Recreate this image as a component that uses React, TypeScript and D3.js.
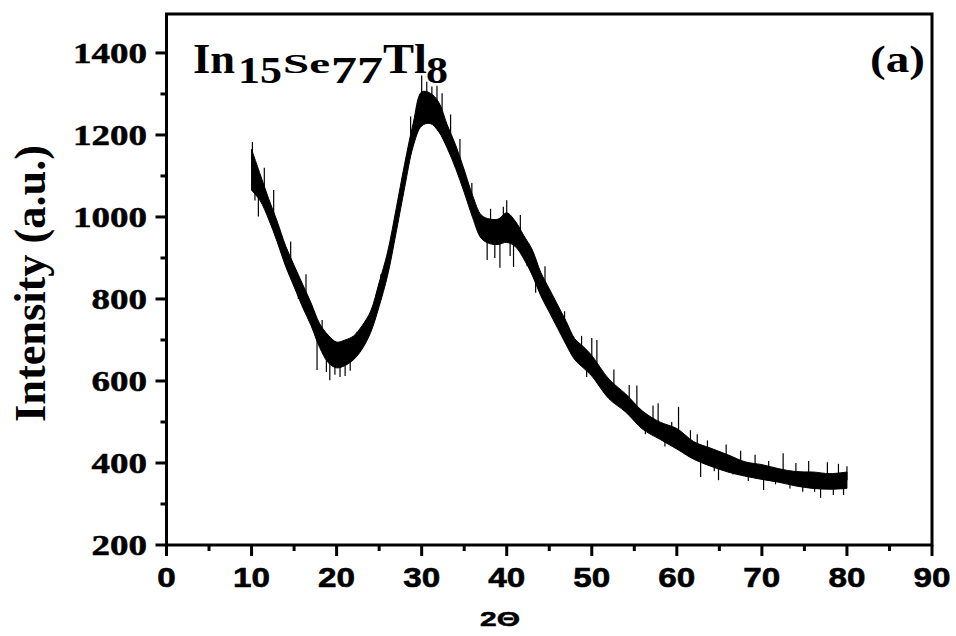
import React from "react";
import * as d3 from "d3";

// ---- data ----
const angles = [10,11,12,13,14,15,16,17,18,19,20,21,22,23,24,25,26,27,28,29,30,31,32,33,34,35,36,37,38,39,40,41,42,43,44,45,46,47,48,49,50,52,54,56,58,60,62,64,66,68,70,72,74,76,78,80];
const lowEnvelope = [1065,1040,995,940,880,830,780,735,682,645,632,638,652,678,718,782,858,962,1072,1172,1222,1228,1208,1168,1118,1060,998,948,935,933,938,928,898,858,808,768,728,688,652,632,612,557,524,482,458,434,409,392,378,368,360,353,344,338,336,338];
const highEnvelope = [1165,1105,1045,990,930,882,836,790,740,712,695,700,710,735,770,840,915,1020,1130,1228,1305,1302,1280,1225,1175,1115,1052,1005,995,995,1010,990,955,920,865,825,785,745,703,684,662,605,568,526,500,484,452,436,420,403,396,386,379,378,374,378];
// isolated noise spikes: [2θ, intensity]
const spikes: [number, number][] = [
  [10.1,1183],[10.4,1040],[10.8,1001],[11.5,1120],[12.6,1066],[13.3,930],[14.6,940],[15.5,800],[16.4,860],
  [17.7,627],[18.3,749],[18.8,622],[19.2,602],[19.8,615],[20.4,610],[21.0,612],[21.6,625],[22.4,720],
  [23.5,735],[25.2,860],[26.6,940],[27.6,1040],[28.7,1245],
  [30.0,1345],[30.6,1330],[31.2,1318],[31.8,1320],[32.4,1302],[33.4,1250],[34.5,1190],[35.9,1083],
  [36.5,985],[37.7,895],[38.1,1020],[38.6,900],[39.2,876],[39.6,1025],[40.0,1041],[40.4,905],[40.8,878],
  [41.6,1005],[42.4,880],[43.4,815],[44.5,880],[45.6,745],[46.8,770],[47.6,665],
  [48.8,710],[49.4,610],[50.0,705],[50.6,700],[51.3,590],[52.6,628],[53.4,540],[54.4,590],[55.3,589],
  [56.3,470],[57.2,540],[57.8,546],[58.6,440],[59.4,500],[60.2,537],[61.0,420],[61.6,480],[62.4,470],
  [62.8,366],[63.6,455],[64.4,380],[64.9,358],[65.8,445],[66.6,372],[67.5,430],[68.4,356],[69.2,420],
  [70.2,334],[70.8,405],[71.6,348],[72.5,424],[73.3,338],[74.0,400],[74.8,330],[75.5,405],[76.2,330],
  [76.9,315],[77.7,402],[78.4,322],[79.0,398],[79.6,322],[80.0,392],
];
const xTicks = [0,10,20,30,40,50,60,70,80,90];
const xMinor = [5,15,25,35,45,55,65,75,85];
const yTicks = [200,400,600,800,1000,1200,1400];
const yMinor = [300,500,700,900,1100,1300];

const W = 956, H = 636;
const left = 166.5, right = 932, top = 14, bottom = 545;

export default function App() {
  const x = d3.scaleLinear().domain([0, 90]).range([left, right]);
  const y = d3.scaleLinear().domain([200, 1495]).range([bottom, top]);
  const idx = angles.map((_, i) => i);
  const area = d3.area<number>()
    .x(i => x(angles[i]))
    .y0(i => y(lowEnvelope[i]))
    .y1(i => y(highEnvelope[i]))
    .curve(d3.curveCatmullRom);
  const mid = d3.scaleLinear().domain(angles).range(angles.map((_, i) => (lowEnvelope[i] + highEnvelope[i]) / 2));
  const serif = "Liberation Serif, Times New Roman, Tinos, serif";
  const sans = "Liberation Sans, Arial, Arimo, sans-serif";
  return (
    <svg width={W} height={H} style={{ position: "absolute", left: 0, top: 0, background: "#fff" }}>
      <rect x={0} y={0} width={W} height={H} fill="#fff" />
      {/* data band */}
      <path d={area(idx) || ""} fill="#000" stroke="#000" strokeWidth={1} strokeLinejoin="round" />
      {spikes.map(([a, v], i) => (
        <line key={i} x1={x(a)} x2={x(a)} y1={y(mid(a))} y2={y(v)} stroke="#000" strokeWidth={1.2} />
      ))}
      {/* frame */}
      <rect x={left} y={top} width={right - left} height={bottom - top} fill="none" stroke="#000" strokeWidth={3} />
      {/* x ticks */}
      {xTicks.map(t => (
        <g key={"x" + t}>
          <line x1={x(t)} x2={x(t)} y1={bottom} y2={bottom + 11} stroke="#000" strokeWidth={3} />
          <text x={x(t)} y={587} textAnchor="middle" style={{ fontFamily: sans, fontWeight: 700, fontSize: 28 }}
            stroke="#000" strokeWidth={0.6}
            textLength={18.5 * String(t).length} lengthAdjust="spacingAndGlyphs">{t}</text>
        </g>
      ))}
      {xMinor.map(t => (
        <line key={"xm" + t} x1={x(t)} x2={x(t)} y1={bottom} y2={bottom + 6} stroke="#000" strokeWidth={3} />
      ))}
      {/* y ticks */}
      {yTicks.map(t => (
        <g key={"y" + t}>
          <line x1={left} x2={left - 11} y1={y(t)} y2={y(t)} stroke="#000" strokeWidth={3} />
          <text x={147} y={y(t) + 10} textAnchor="end" style={{ fontFamily: serif, fontWeight: 700, fontSize: 30 }}
            stroke="#000" strokeWidth={0.5}
            textLength={18.5 * String(t).length} lengthAdjust="spacingAndGlyphs">{t}</text>
        </g>
      ))}
      {yMinor.map(t => (
        <line key={"ym" + t} x1={left} x2={left - 6} y1={y(t)} y2={y(t)} stroke="#000" strokeWidth={3} />
      ))}
      {/* axis titles */}
      <text transform="translate(45,283.5) rotate(-90)" textAnchor="middle"
        style={{ fontFamily: serif, fontWeight: 700, fontSize: 44 }} textLength={277} lengthAdjust="spacingAndGlyphs">Intensity (a.u.)</text>
      <text x={480} y={626} style={{ fontFamily: sans, fontWeight: 700, fontSize: 20 }} stroke="#000" strokeWidth={0.5}
        textLength={40} lengthAdjust="spacingAndGlyphs">2Θ</text>
      {/* compound label */}
      <g style={{ fontFamily: serif, fontWeight: 700 }} fill="#000">
        <text x={193} y={73} fontSize={42} textLength={42} lengthAdjust="spacingAndGlyphs">In</text>
        <text x={238} y={83} fontSize={37} textLength={44} lengthAdjust="spacingAndGlyphs">15</text>
        <text x={283} y={73} fontSize={27} textLength={47} lengthAdjust="spacingAndGlyphs">Se</text>
        <text x={331} y={83} fontSize={37} textLength={52} lengthAdjust="spacingAndGlyphs">77</text>
        <text x={383} y={73} fontSize={42} textLength={44} lengthAdjust="spacingAndGlyphs">Tl</text>
        <text x={426} y={83} fontSize={37} textLength={22} lengthAdjust="spacingAndGlyphs">8</text>
      </g>
      <text x={870} y={72} style={{ fontFamily: serif, fontWeight: 700, fontSize: 37 }} textLength={55}
        lengthAdjust="spacingAndGlyphs">(a)</text>
    </svg>
  );
}
